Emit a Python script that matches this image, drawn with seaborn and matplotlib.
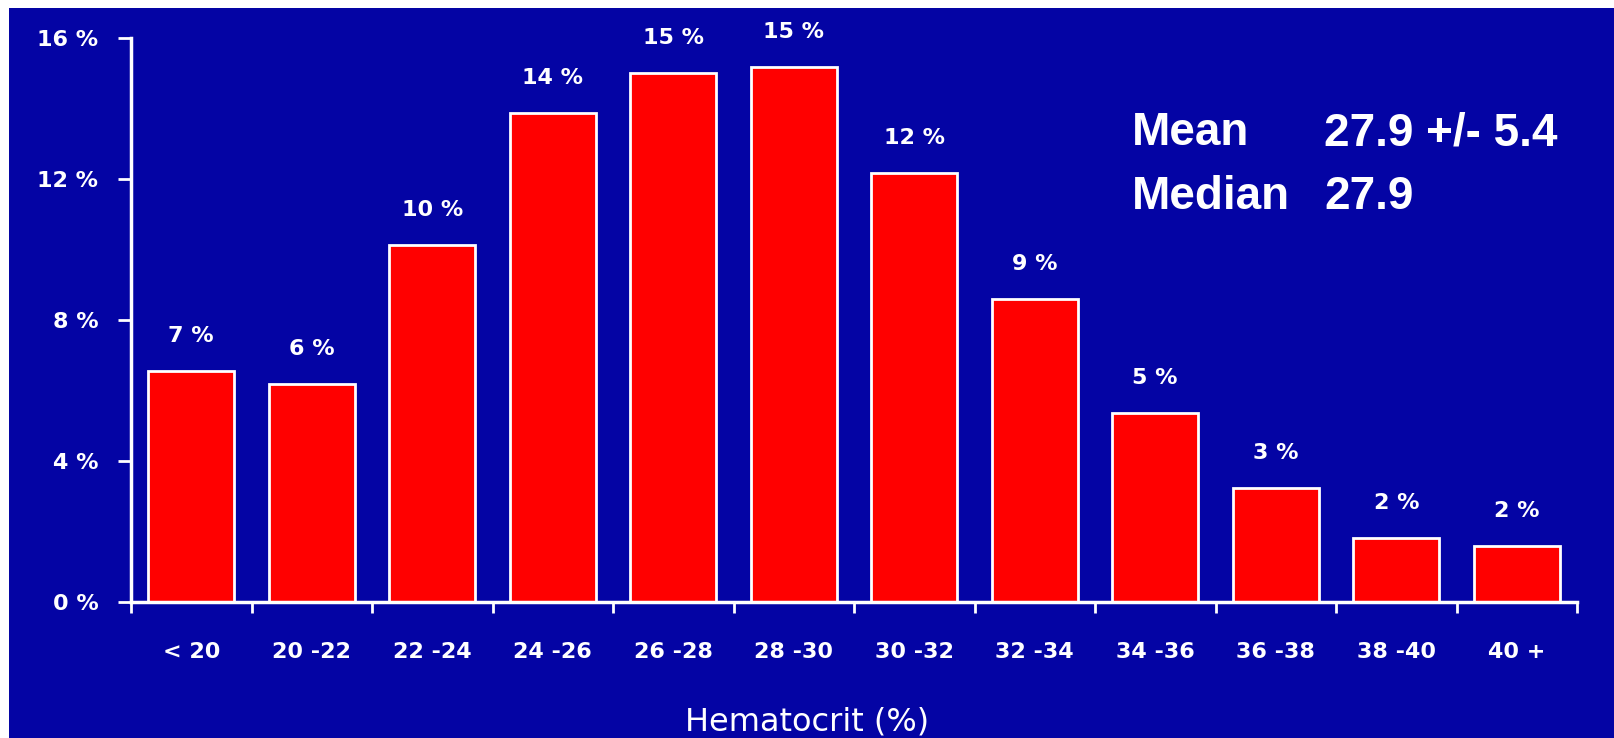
import matplotlib
matplotlib.use("Agg")
import matplotlib.pyplot as plt
import seaborn as sns
import pandas as pd
from matplotlib.patches import Rectangle
from matplotlib.ticker import FixedLocator

categories = ["< 20", "20 -22", "22 -24", "24 -26", "26 -28", "28 -30",
              "30 -32", "32 -34", "34 -36", "36 -38", "38 -40", "40 +"]
values = [6.55, 6.18, 10.13, 13.86, 15.0, 15.19, 12.16, 8.6, 5.35, 3.23, 1.82, 1.59]
bar_labels = ["7 %", "6 %", "10 %", "14 %", "15 %", "15 %", "12 %", "9 %",
              "5 %", "3 %", "2 %", "2 %"]
y_ticks = [0, 4, 8, 12, 16]
y_tick_labels = ["0 %", "4 %", "8 %", "12 %", "16 %"]
stats_names = ["Mean", "Median"]
stats_values = ["27.9 +/- 5.4", "27.9"]

BLUE = "#0404A4"
W, H = 1614, 738

sns.set_theme(style="white")
plt.rcParams["font.family"] = ["DejaVu Sans"]

fig = plt.figure(figsize=(W / 100, H / 100), dpi=100, facecolor="white")
fig.patches.append(Rectangle((9 / W, 0), 1, (H - 8) / H, transform=fig.transFigure,
                             facecolor=BLUE, edgecolor="none", zorder=-10))

ax = fig.add_axes([131 / W, (H - 602) / H, (1577 - 131) / W, (602 - 38) / H])
ax.set_facecolor(BLUE)
ax.patch.set_alpha(0)

df = pd.DataFrame({"cat": categories, "val": values})
sns.barplot(data=df, x="cat", y="val", color="#FF0000", saturation=1,
            edgecolor="white", linewidth=2, width=0.71, ax=ax)

ax.bar_label(ax.containers[0], labels=bar_labels, padding=18, color="white",
             fontsize=16, fontweight="bold")

ax.set_xlim(-0.5, len(categories) - 0.5)
ax.set_ylim(0, 16)

for s in ["top", "right"]:
    ax.spines[s].set_visible(False)
for s in ["left", "bottom"]:
    ax.spines[s].set_color("white")
    ax.spines[s].set_linewidth(2.5)

ax.set_yticks(y_ticks)
ax.set_yticklabels(y_tick_labels)
ax.tick_params(axis="y", which="major", direction="out", length=9.5, width=2,
               color="white", labelcolor="white", pad=14, labelsize=16, left=True)
for t in ax.get_yticklabels():
    t.set_fontweight("bold")

ax.xaxis.set_minor_locator(FixedLocator([i - 0.5 for i in range(len(categories) + 1)]))
ax.tick_params(axis="x", which="minor", direction="out", length=8, width=2,
               color="white", bottom=True)
ax.tick_params(axis="x", which="major", length=0, labelcolor="white", pad=29,
               labelsize=16, bottom=True)
for t in ax.get_xticklabels():
    t.set_fontweight("bold")

ax.set_ylabel("")
ax.set_xlabel("Hematocrit (%)", color="white", fontsize=23, va="top")
ax.xaxis.set_label_coords(0.4675, -0.185)

ys = [(H - 133) / H, (H - 197) / H]
for name, val, y in zip(stats_names, stats_values, ys):
    fig.text(1132 / W, y, name, color="white", fontsize=33, fontweight="bold",
             family="Liberation Sans", va="center", ha="left")
    fig.text(1324 / W, y, val, color="white", fontsize=33, fontweight="bold",
             family="Liberation Sans", va="center", ha="left")

fig.savefig("out.png", dpi=100, facecolor=fig.get_facecolor())
